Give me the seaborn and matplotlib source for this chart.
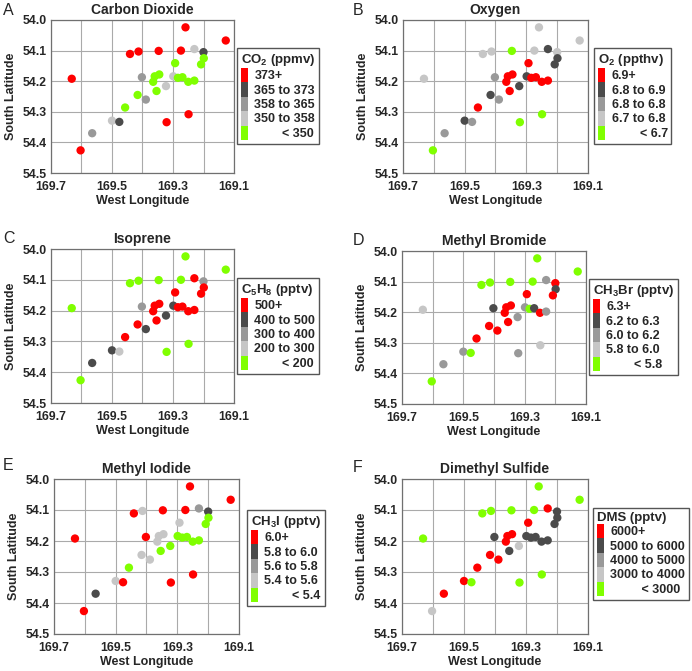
import matplotlib
matplotlib.use('Agg')
import matplotlib.pyplot as plt
from matplotlib.patches import Patch
from matplotlib.ticker import FixedLocator, FuncFormatter
import seaborn as sns
import pandas as pd

# Station positions (same ship track in every panel)
lon = [169.259, 169.127, 169.632, 169.603, 169.441, 169.413, 169.347, 169.274,
       169.230, 169.200, 169.199, 169.208, 169.293, 169.402, 169.360, 169.345,
       169.365, 169.299, 169.284, 169.269, 169.250, 169.230, 169.354, 169.323,
       169.416, 169.389, 169.457, 169.500, 169.476, 169.565, 169.321, 169.249]
lat = [54.024, 54.067, 54.192, 54.426, 54.111, 54.103, 54.101, 54.100,
       54.095, 54.105, 54.125, 54.145, 54.141, 54.187, 54.184, 54.178,
       54.202, 54.184, 54.189, 54.187, 54.202, 54.198, 54.232, 54.216,
       54.245, 54.260, 54.286, 54.329, 54.333, 54.370, 54.334, 54.308]

# concentration class of each station (0 = highest class ... 4 = lowest)
co2_class = [0, 0, 0, 0, 0, 0, 0, 0, 3, 1, 4, 4, 4, 2, 4, 4,
             4, 3, 4, 4, 4, 4, 4, 3, 4, 2, 4, 3, 1, 2, 0, 0]
o2_class = [3, 3, 3, 4, 3, 3, 4, 3, 1, 3, 1, 1, 0, 2, 0, 0,
            0, 1, 0, 0, 0, 0, 0, 1, 1, 2, 0, 1, 2, 2, 4, 4]
c5h8_class = [4, 4, 4, 4, 4, 4, 4, 4, 0, 2, 0, 0, 0, 2, 0, 0,
              0, 1, 0, 0, 0, 0, 0, 1, 0, 1, 0, 1, 3, 1, 4, 4]
ch3br_class = [4, 4, 3, 4, 4, 4, 4, 4, 2, 0, 1, 0, 0, 1, 0, 0,
               0, 2, 4, 1, 0, 2, 0, 2, 0, 0, 0, 2, 4, 2, 2, 3]
ch3i_class = [0, 0, 0, 0, 0, 3, 0, 0, 2, 1, 4, 4, 3, 0, 3, 3,
              3, 4, 4, 4, 4, 4, 4, 4, 3, 3, 4, 3, 0, 1, 0, 0]
dms_class = [4, 4, 4, 3, 4, 4, 4, 4, 0, 1, 1, 1, 0, 1, 0, 0,
             0, 1, 1, 1, 1, 1, 1, 3, 0, 0, 0, 0, 4, 0, 4, 4]

titles = ['Carbon Dioxide', 'Oxygen', 'Isoprene', 'Methyl Bromide', 'Methyl Iodide', 'Dimethyl Sulfide']
letters = ['A', 'B', 'C', 'D', 'E', 'F']
legend_titles = ['CO$_2$ (ppmv)', 'O$_2$ (ppthv)', 'C$_5$H$_8$ (pptv)',
                 'CH$_3$Br (pptv)', 'CH$_3$I (pptv)', 'DMS (pptv)']
class_labels = [
    ['373+', '365 to 373', '358 to 365', '350 to 358', '< 350'],
    ['6.9+', '6.8 to 6.9', '6.8 to 6.8', '6.7 to 6.8', '< 6.7'],
    ['500+', '400 to 500', '300 to 400', '200 to 300', '< 200'],
    ['6.3+', '6.2 to 6.3', '6.0 to 6.2', '5.8 to 6.0', '< 5.8'],
    ['6.0+', '5.8 to 6.0', '5.6 to 5.8', '5.4 to 5.6', '< 5.4'],
    ['6000+', '5000 to 6000', '4000 to 5000', '3000 to 4000', '< 3000'],
]
all_classes = [co2_class, o2_class, c5h8_class, ch3br_class, ch3i_class, dms_class]

colors = ['#ff0000', '#4b4b4b', '#999999', '#c6c6c6', '#80ff00']

sns.set_style('white')
plt.rcParams['font.family'] = ['Liberation Sans', 'DejaVu Sans']
plt.rcParams['font.weight'] = 'bold'
plt.rcParams['mathtext.fontset'] = 'custom'
plt.rcParams['mathtext.rm'] = 'Liberation Sans:bold'
plt.rcParams['mathtext.it'] = 'Liberation Sans:bold'
plt.rcParams['mathtext.bf'] = 'Liberation Sans:bold'
plt.rcParams['mathtext.default'] = 'rm'

W, H = 692, 671
fig = plt.figure(figsize=(W / 100, H / 100), dpi=100)

# pixel boxes: axes (left, top, right, bottom), legend (left, top), letter (x, y)
ax_boxes = [(51, 20, 234, 173), (403, 20, 588, 173),
            (51, 249, 234, 403), (402, 251, 586, 404),
            (54, 479, 239, 634), (402, 479, 588, 634)]
leg_pos = [(237, 48), (594, 48), (237, 278), (589, 279), (247, 510), (593, 508)]
letter_pos = [(3, 3), (353, 3), (3, 231), (353, 233), (3, 458), (353, 460)]


def pad_last(labels):
    # right-align the "< x" label by padding with spaces
    out = list(labels)
    n = max(len(s) for s in labels[1:4]) - len(labels[4])
    out[4] = ' ' * int(n * 1.6) + labels[4]
    return out


for i in range(6):
    l, t, r, b = ax_boxes[i]
    ax = fig.add_axes([l / W, 1 - b / H, (r - l) / W, (b - t) / H])
    df = pd.DataFrame({'lon': lon, 'lat': lat, 'cls': all_classes[i]})
    sns.scatterplot(data=df, x='lon', y='lat', hue='cls',
                    palette={k: colors[k] for k in range(5)},
                    s=36, linewidth=0, legend=False, ax=ax, zorder=3)
    ax.set_xlim(169.7, 169.1)
    ax.set_ylim(54.5, 54.0)
    ax.xaxis.set_major_locator(FixedLocator([169.7, 169.6, 169.5, 169.4, 169.3, 169.2, 169.1]))
    ax.xaxis.set_major_formatter(FuncFormatter(
        lambda v, p: f'{v:.1f}' if round(v * 10) % 2 == 1 else ''))
    ax.yaxis.set_major_locator(FixedLocator([54.0, 54.1, 54.2, 54.3, 54.4, 54.5]))
    ax.yaxis.set_major_formatter(FuncFormatter(lambda v, p: f'{v:.1f}'))
    ax.grid(True, color='#aaaaaa', lw=0.8)
    ax.tick_params(labelsize=8.8, length=0)
    ax.tick_params(axis='x', pad=5.5)
    ax.tick_params(axis='y', pad=3)
    for sp in ax.spines.values():
        sp.set_color('#707070')
        sp.set_linewidth(0.9)
    ax.set_xlabel('West Longitude', fontsize=9, fontweight='bold', labelpad=2)
    ax.set_ylabel('South Latitude', fontsize=9, fontweight='bold', labelpad=4)
    ax.set_title(titles[i], fontsize=10, fontweight='bold', pad=4)

    handles = [Patch(facecolor=colors[k], edgecolor='none', label=lab)
               for k, lab in enumerate(pad_last(class_labels[i]))]
    lx, ly = leg_pos[i]
    leg = ax.legend(handles=handles, title=legend_titles[i], loc='upper left',
                    bbox_to_anchor=(lx / W, 1 - ly / H), bbox_transform=fig.transFigure,
                    borderaxespad=0, fontsize=9, handlelength=0.6, handleheight=1.4,
                    labelspacing=0, handletextpad=0.5, borderpad=0.3,
                    alignment='left', fancybox=False, framealpha=1,
                    title_fontproperties={'weight': 'bold', 'size': 9.5})
    leg.get_frame().set_edgecolor('#555555')
    leg.get_frame().set_linewidth(1.0)

    fig.text(letter_pos[i][0] / W, 1 - letter_pos[i][1] / H, letters[i],
             fontsize=11.5, fontweight='normal', va='top', ha='left')

fig.savefig('out.png', dpi=100)
